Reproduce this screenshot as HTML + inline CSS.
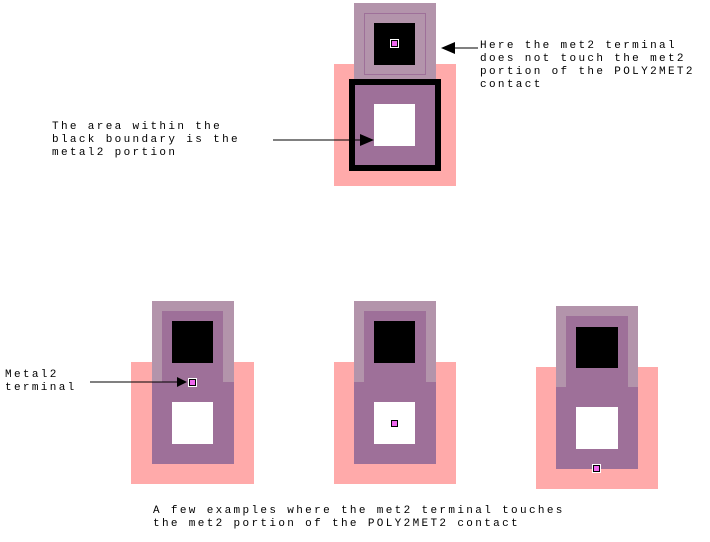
<!DOCTYPE html>
<html><head><style>
html,body{margin:0;padding:0;background:#fff;width:710px;height:542px;overflow:hidden}
svg text{font-family:"Liberation Mono",monospace;font-size:11px;letter-spacing:2.35px;fill:#000}
</style></head><body>
<svg width="710" height="542" xmlns="http://www.w3.org/2000/svg">
<!-- top figure -->
<rect x="334" y="64" width="122" height="122" fill="#ffaaaa"/>
<rect x="354" y="3" width="82" height="76" fill="#b394ab"/>
<rect x="364.5" y="13.5" width="61" height="61" fill="none" stroke="#9e7099" stroke-width="1"/>
<rect x="374" y="23" width="41" height="42" fill="#000"/>
<rect x="390" y="39" width="9" height="9" fill="#fff"/>
<rect x="391" y="40" width="7" height="7" fill="#000"/>
<rect x="392" y="41" width="5" height="5" fill="#ee66ee"/>
<rect x="352" y="82" width="86" height="86" fill="#9e7099" stroke="#000" stroke-width="6"/>
<rect x="374" y="104" width="41" height="42" fill="#fff"/>
<line x1="273" y1="140" x2="362" y2="140" stroke="#000"/>
<polygon points="374,140 360,134 360,146" fill="#000"/>
<line x1="452" y1="48" x2="478" y2="48" stroke="#000"/>
<polygon points="441,48 455,42 455,54" fill="#000"/>
<text x="480" y="48">Here the met2 terminal</text>
<text x="480" y="61">does not touch the met2</text>
<text x="480" y="74">portion of the POLY2MET2</text>
<text x="480" y="87">contact</text>
<text x="52" y="129">The area within the</text>
<text x="52" y="142">black boundary is the</text>
<text x="52" y="155">metal2 portion</text>

<!-- fig 1 -->
<rect x="131" y="362" width="123" height="122" fill="#ffaaaa"/>
<rect x="152" y="301" width="82" height="81" fill="#b394ab"/>
<rect x="162" y="311" width="61" height="71" fill="#9e7099"/>
<rect x="152" y="382" width="82" height="82" fill="#9e7099"/>
<rect x="172" y="321" width="41" height="42" fill="#000"/>
<rect x="172" y="402" width="41" height="42" fill="#fff"/>
<rect x="188" y="378" width="9" height="9" fill="#fff"/>
<rect x="189" y="379" width="7" height="7" fill="#000"/>
<rect x="190" y="380" width="5" height="5" fill="#ee66ee"/>
<line x1="90" y1="382" x2="178" y2="382" stroke="#000"/>
<polygon points="187,382 177,377 177,387" fill="#000"/>
<text x="5" y="377">Metal2</text>
<text x="5" y="390">terminal</text>

<!-- fig 2 -->
<rect x="334" y="362" width="122" height="122" fill="#ffaaaa"/>
<rect x="354" y="301" width="82" height="81" fill="#b394ab"/>
<rect x="364" y="311" width="62" height="71" fill="#9e7099"/>
<rect x="354" y="382" width="82" height="82" fill="#9e7099"/>
<rect x="374" y="321" width="41" height="42" fill="#000"/>
<rect x="374" y="402" width="41" height="42" fill="#fff"/>
<rect x="390" y="419" width="9" height="9" fill="#fff"/>
<rect x="391" y="420" width="7" height="7" fill="#000"/>
<rect x="392" y="421" width="5" height="5" fill="#ee66ee"/>

<!-- fig 3 -->
<rect x="536" y="367" width="122" height="122" fill="#ffaaaa"/>
<rect x="556" y="306" width="82" height="81" fill="#b394ab"/>
<rect x="566" y="316" width="62" height="71" fill="#9e7099"/>
<rect x="556" y="387" width="82" height="82" fill="#9e7099"/>
<rect x="576" y="327" width="42" height="41" fill="#000"/>
<rect x="576" y="407" width="42" height="42" fill="#fff"/>
<rect x="592" y="464" width="9" height="9" fill="#fff"/>
<rect x="593" y="465" width="7" height="7" fill="#000"/>
<rect x="594" y="466" width="5" height="5" fill="#ee66ee"/>

<text x="153" y="513">A few examples where the met2 terminal touches</text>
<text x="153" y="526">the met2 portion of the POLY2MET2 contact</text>
</svg>
</body></html>
